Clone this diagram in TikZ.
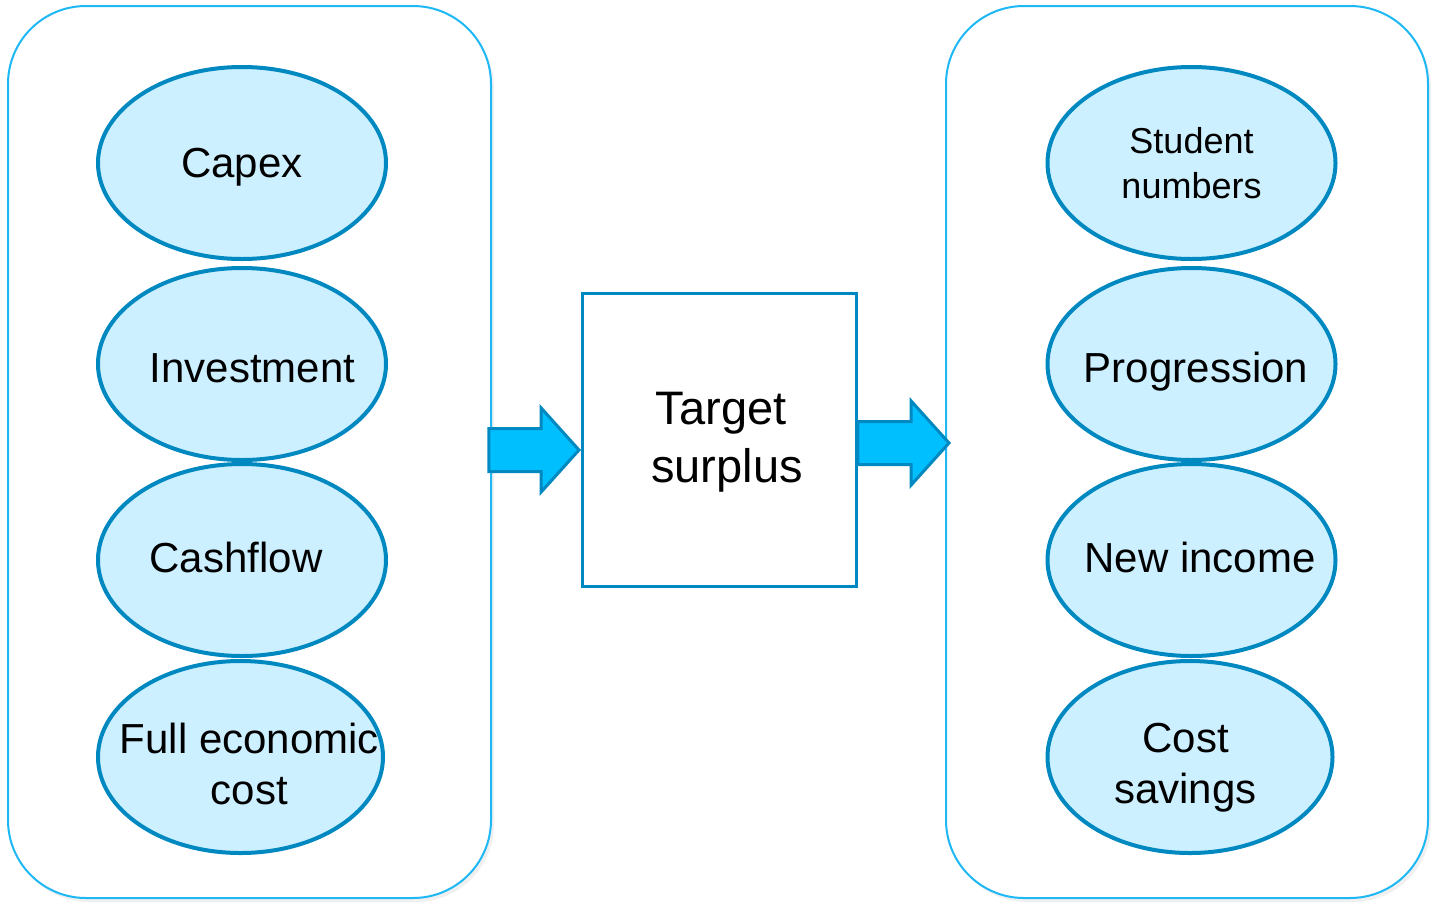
\documentclass[tikz,border=0pt]{standalone}
\usepackage{fontspec}
\setmainfont{Liberation Sans}
\usepackage{xcolor}
\usetikzlibrary{shapes.geometric,shapes.arrows,shadows}
\definecolor{CPanel}{HTML}{1EB8F5}
\definecolor{CRing}{HTML}{0088C0}
\definecolor{CBubble}{HTML}{CCF0FF}
\definecolor{CArrow}{HTML}{00BFFF}

\begin{document}
\begin{tikzpicture}[inner sep=0pt,
  panel/.style={draw=CPanel, line width=2pt, fill=white, rounded corners=78pt, shape=rectangle, drop shadow={opacity=0.12, shadow xshift=3pt, shadow yshift=-4pt}},
  bubble/.style={shape=ellipse, draw=CRing, line width=4pt, fill=CBubble, minimum width=288pt, minimum height=192pt},
  bubbletext/.style={align=center, font=\fontsize{42}{51}\selectfont},
  fatarrow/.style={shape=single arrow, draw=CRing, line width=3pt, fill=CArrow, inner ysep=20pt, single arrow head extend=20.5pt, single arrow tip angle=96, minimum width=81pt, anchor=tip}]
\useasboundingbox (0pt,0pt) rectangle (1431pt,-908pt);

% panels and centre box
\node (lpanel) [panel, minimum width=483pt, minimum height=892pt, at={(249.5pt,-452pt)}] {};
\node (rpanel) [panel, minimum width=482pt, minimum height=892pt, at={(1187pt,-452pt)}] {};
\node (target) [draw=CRing, line width=3pt, minimum width=274pt, minimum height=293pt, at={(719pt,-439.5pt)}] {};
\node (tt) [at={(721pt,-442pt)}, align=center, font=\fontsize{47}{58}\selectfont] {Target\\\hspace*{12pt}surplus};

% left bubbles
\node (n0) [bubble, at={(242pt,-163pt)}] {};
\node (n1) [bubble, at={(242pt,-364pt)}] {};
\node (n2) [bubble, at={(242pt,-560pt)}] {};
\node (n3) [bubble, at={(240.5pt,-757pt)}, minimum width=285pt] {};
\node (t0) [bubbletext, at={(242pt,-167pt)}] {Capex};
\node (t1) [bubbletext, at={(252.5pt,-368pt)}] {Investment};
\node (t2) [bubbletext, at={(236pt,-557pt)}] {Cashflow};
\node (t3) [bubbletext, at={(249.5pt,-764pt)}] {Full economic\\cost};

% right bubbles
\node (m0) [bubble, at={(1191.5pt,-163pt)}] {};
\node (m1) [bubble, at={(1191.5pt,-364pt)}] {};
\node (m2) [bubble, at={(1191.5pt,-560pt)}] {};
\node (m3) [bubble, at={(1190pt,-757pt)}, minimum width=285pt] {};
\node (s0) [bubbletext, at={(1191.5pt,-163pt)}, font=\fontsize{36}{45}\selectfont] {Student\\numbers};
\node (s1) [bubbletext, at={(1196pt,-372pt)}] {Progression};
\node (s2) [bubbletext, at={(1200pt,-557pt)}] {New income};
\node (s3) [bubbletext, at={(1185.5pt,-768pt)}] {Cost\\savings};

% arrows
\node (a0) [fatarrow, minimum height=90pt, at={(581pt,-450pt)}] {};
\node (a1) [fatarrow, minimum height=91pt, at={(951pt,-443pt)}] {};
\end{tikzpicture}
\end{document}
